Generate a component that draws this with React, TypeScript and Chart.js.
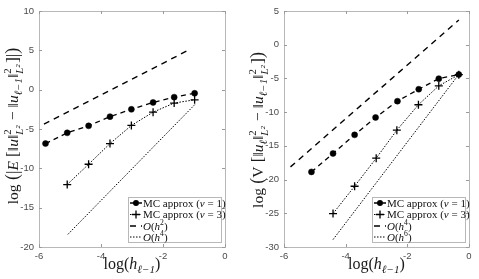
import React, { useEffect, useRef } from "react";
import { Chart, registerables } from "chart.js";

Chart.register(...registerables);

// ---------- data ----------
const leftX1 = [-5.79, -5.09, -4.4, -3.71, -3.02, -2.32, -1.64, -0.98];
const leftY1 = [-6.85, -5.49, -4.6, -3.43, -2.5, -1.62, -0.95, -0.46];
const leftX3 = [-5.09, -4.4, -3.71, -3.02, -2.32, -1.64, -0.98];
const leftY3 = [-12.06, -9.48, -6.85, -4.55, -2.86, -1.7, -1.29];
const leftRefAX = [-5.84, -1.13];
const leftRefAY = [-4.39, 5.12];
const leftRefBX = [-5.07, -0.97];
const leftRefBY = [-18.4, -1.88];

const rightX1 = [-5.11, -4.41, -3.71, -3.03, -2.32, -1.63, -0.98, -0.33];
const rightY1 = [-18.86, -16.13, -13.37, -10.79, -8.37, -6.6, -5.03, -4.42];
const rightX3 = [-4.41, -3.71, -3.01, -2.34, -1.64, -0.98, -0.33];
const rightY3 = [-25.04, -20.99, -16.83, -12.67, -8.9, -6.1, -4.45];
const rightRefAX = [-5.79, -0.33];
const rightRefAY = [-18.12, 3.66];
const rightRefBX = [-4.41, -0.33];
const rightRefBY = [-28.9, -4.4];

const xTicks = [-6, -4, -2, 0];
const leftYTicks = [-20, -15, -10, -5, 0, 5, 10];
const rightYTicks = [-30, -25, -20, -15, -10, -5, 0, 5];

const legendNames = ["MC approx", "MC approx"];
const legendNu = ["1", "3"];
const leftOrders = ["2", "4"];
const rightOrders = ["4", "6"];

// ---------- rich text ----------
type Seg = { t?: string; it?: boolean; sz?: number; dy?: number; sup?: string; sub?: string };
const SERIF = '"Liberation Serif", "Times New Roman", serif';

function segFont(it: boolean | undefined, size: number) {
  return `${it ? "italic " : ""}${size}px ${SERIF}`;
}
function segWidth(ctx: CanvasRenderingContext2D, s: Seg, base: number) {
  if (s.sup !== undefined || s.sub !== undefined) {
    ctx.font = segFont(false, base * 0.7);
    const a = s.sup ? ctx.measureText(s.sup).width : 0;
    const b = s.sub ? ctx.measureText(s.sub).width : 0;
    return Math.max(a, b) + 1;
  }
  ctx.font = segFont(s.it, base * (s.sz || 1));
  return ctx.measureText(s.t || "").width;
}
function drawRich(ctx: CanvasRenderingContext2D, segs: Seg[], x: number, y: number, base: number, align: "left" | "center") {
  let total = 0;
  for (const s of segs) total += segWidth(ctx, s, base);
  let cx = align === "center" ? x - total / 2 : x;
  ctx.textAlign = "left";
  ctx.textBaseline = "alphabetic";
  for (const s of segs) {
    const w = segWidth(ctx, s, base);
    if (s.sup !== undefined || s.sub !== undefined) {
      ctx.font = segFont(false, base * 0.7);
      if (s.sup) ctx.fillText(s.sup, cx, y - base * 0.42);
      if (s.sub) {
        ctx.font = segFont(true, base * 0.7);
        ctx.fillText(s.sub, cx, y + base * 0.3);
      }
    } else {
      ctx.font = segFont(s.it, base * (s.sz || 1));
      ctx.fillText(s.t || "", cx, y + (s.dy || 0) * base);
    }
    cx += w;
  }
}

const xTitle: Seg[] = [{ t: "log(" }, { t: "h", it: true }, { t: "ℓ−1", it: true, sz: 0.7, dy: 0.25 }, { t: ")" }];

const leftYTitle: Seg[] = [
  { t: "log" }, { t: " (", sz: 1.15 }, { t: "|", sz: 1.1 }, { t: "E", it: true }, { t: " [", sz: 1.1 },
  { t: "‖" }, { t: "u", it: true }, { t: "‖" }, { sup: "2", sub: "L²" },
  { t: " − " }, { t: "‖" }, { t: "u", it: true }, { t: "ℓ−1", it: true, sz: 0.7, dy: 0.25 }, { t: "‖" },
  { sup: "2", sub: "L²" }, { t: "]", sz: 1.1 }, { t: "|", sz: 1.1 }, { t: ")", sz: 1.15 },
];
const rightYTitle: Seg[] = [
  { t: "log" }, { t: " (", sz: 1.15 }, { t: "V" }, { t: " [", sz: 1.1 },
  { t: "‖" }, { t: "u", it: true }, { t: "ℓ", it: true, sz: 0.7, dy: 0.25 }, { t: "‖" }, { sup: "2", sub: "L²" },
  { t: " − " }, { t: "‖" }, { t: "u", it: true }, { t: "ℓ−1", it: true, sz: 0.7, dy: 0.25 }, { t: "‖" },
  { sup: "2", sub: "L²" }, { t: "]", sz: 1.1 }, { t: ")", sz: 1.15 },
];

function pts(xs: number[], ys: number[]) {
  return xs.map((x, i) => ({ x, y: ys[i] }));
}

type Cfg = {
  width: number;
  padRight: number;
  yAxisW: number;
  yMin: number;
  yMax: number;
  yTicks: number[];
  s1: { x: number; y: number }[];
  s3: { x: number; y: number }[];
  rA: { x: number; y: number }[];
  rB: { x: number; y: number }[];
  orders: string[];
  yTitle: Seg[];
  yTitleX: number;
  yTitleY: number;
};

function makeChart(canvas: HTMLCanvasElement, c: Cfg) {
  const BOX = "#b8b8b8";
  const framePlugin = {
    id: "frame",
    afterDraw(chart: any) {
      const ctx: CanvasRenderingContext2D = chart.ctx;
      const a = chart.chartArea;
      const xs = chart.scales.x;
      const ys = chart.scales.y;
      ctx.save();
      ctx.strokeStyle = BOX;
      ctx.lineWidth = 1;
      ctx.setLineDash([]);
      ctx.strokeRect(Math.round(a.left) + 0.5, Math.round(a.top) + 0.5, Math.round(a.right - a.left), Math.round(a.bottom - a.top));
      ctx.strokeStyle = "#9a9a9a";
      ctx.beginPath();
      const tl = 3;
      for (const v of xTicks) {
        const px = Math.round(xs.getPixelForValue(v)) + 0.5;
        ctx.moveTo(px, a.bottom); ctx.lineTo(px, a.bottom - tl);
        ctx.moveTo(px, a.top); ctx.lineTo(px, a.top + tl);
      }
      for (const v of c.yTicks) {
        const py = Math.round(ys.getPixelForValue(v)) + 0.5;
        ctx.moveTo(a.left, py); ctx.lineTo(a.left + tl, py);
        ctx.moveTo(a.right, py); ctx.lineTo(a.right - tl, py);
      }
      ctx.stroke();

      // titles
      ctx.fillStyle = "#1a1a1a";
      drawRich(ctx, xTitle, (a.left + a.right) / 2, 269, 16, "center");
      ctx.save();
      ctx.translate(c.yTitleX, c.yTitleY);
      ctx.rotate(-Math.PI / 2);
      drawRich(ctx, c.yTitle, 0, 5, 15.5, "center");
      ctx.restore();

      // legend
      const lx = a.right - 97;
      const ly = 197;
      const lw = 93;
      const lh = 45;
      ctx.fillStyle = "#ffffff";
      ctx.fillRect(lx, ly, lw, lh);
      ctx.strokeStyle = BOX;
      ctx.strokeRect(Math.round(lx) + 0.5, ly + 0.5, lw, lh);
      const rows = [ly + 6, ly + 17.5, ly + 29, ly + 40];
      const ds = chart.data.datasets;
      ctx.fillStyle = "#111";
      for (let i = 0; i < 4; i++) {
        const y = rows[i];
        const d = ds[i];
        ctx.strokeStyle = "#000";
        ctx.lineWidth = d.borderWidth;
        ctx.setLineDash(d.borderDash || []);
        ctx.beginPath();
        ctx.moveTo(lx + 2, y);
        ctx.lineTo(lx + 14, y);
        ctx.stroke();
        ctx.setLineDash([]);
        if (i === 0) {
          ctx.beginPath();
          ctx.arc(lx + 8, y, 3, 0, Math.PI * 2);
          ctx.fillStyle = "#000";
          ctx.fill();
        } else if (i === 1) {
          ctx.lineWidth = 1.3;
          ctx.beginPath();
          ctx.moveTo(lx + 4, y); ctx.lineTo(lx + 12, y);
          ctx.moveTo(lx + 8, y - 4); ctx.lineTo(lx + 8, y + 4);
          ctx.stroke();
        }
        ctx.fillStyle = "#111";
        const ty = y + 3.8;
        if (i < 2) {
          drawRich(ctx, [{ t: legendNames[i] + " (" }, { t: "ν", it: true }, { t: " = " + legendNu[i] + ")" }], lx + 15, ty, 11, "left");
        } else {
          drawRich(ctx, [{ t: "O", it: true }, { t: "(" }, { t: "h", it: true }, { t: c.orders[i - 2], sz: 0.7, dy: -0.4 }, { t: ")" }], lx + 15, ty, 11, "left");
        }
      }
      ctx.restore();
    },
  };

  return new Chart(canvas, {
    type: "line",
    data: {
      datasets: [
        { data: c.s1, borderColor: "#000", backgroundColor: "#000", borderWidth: 1.3, borderDash: [5, 4], pointStyle: "circle", pointRadius: 3, pointBorderWidth: 0.5, pointBackgroundColor: "#000", tension: 0 },
        { data: c.s3, borderColor: "#000", backgroundColor: "#000", borderWidth: 1, borderDash: [1.5, 1.5], pointStyle: "cross", pointRadius: 4, pointBorderWidth: 1.3, tension: 0 },
        { data: c.rA, borderColor: "#000", borderWidth: 1.4, borderDash: [6, 5], pointRadius: 0, tension: 0 },
        { data: c.rB, borderColor: "#000", borderWidth: 1, borderDash: [1.5, 1.5], pointRadius: 0, tension: 0 },
      ] as any,
    },
    plugins: [framePlugin],
    options: {
      animation: false,
      responsive: false,
      devicePixelRatio: 1,
      layout: { padding: { left: 0, right: c.padRight, top: 11, bottom: 0 } },
      plugins: { legend: { display: false }, tooltip: { enabled: false } },
      scales: {
        x: {
          type: "linear",
          min: -6,
          max: 0,
          afterBuildTicks: (s: any) => { s.ticks = xTicks.map((v) => ({ value: v })); },
          afterFit: (s: any) => { s.height = 32; },
          grid: { display: false, drawTicks: false, tickLength: 0 },
          border: { display: false },
          ticks: { color: "#4a4a4a", font: { family: '"Liberation Sans", Arial, sans-serif', size: 9.5 }, padding: 4, maxRotation: 0 },
        },
        y: {
          type: "linear",
          min: c.yMin,
          max: c.yMax,
          afterBuildTicks: (s: any) => { s.ticks = c.yTicks.map((v) => ({ value: v })); },
          afterFit: (s: any) => { s.width = c.yAxisW; },
          grid: { display: false, drawTicks: false, tickLength: 0 },
          border: { display: false },
          ticks: { color: "#4a4a4a", font: { family: '"Liberation Sans", Arial, sans-serif', size: 9.5 }, padding: 5 },
        },
      },
    } as any,
  });
}

export default function App() {
  const leftRef = useRef<HTMLCanvasElement>(null);
  const rightRef = useRef<HTMLCanvasElement>(null);

  useEffect(() => {
    document.body.style.margin = "0";
    const l = makeChart(leftRef.current!, {
      width: 240, padRight: 15, yAxisW: 39, yMin: -20, yMax: 10, yTicks: leftYTicks,
      s1: pts(leftX1, leftY1), s3: pts(leftX3, leftY3), rA: pts(leftRefAX, leftRefAY), rB: pts(leftRefBX, leftRefBY),
      orders: leftOrders, yTitle: leftYTitle, yTitleX: 13, yTitleY: 126,
    });
    const r = makeChart(rightRef.current!, {
      width: 239, padRight: 10, yAxisW: 44, yMin: -30, yMax: 5, yTicks: rightYTicks,
      s1: pts(rightX1, rightY1), s3: pts(rightX3, rightY3), rA: pts(rightRefAX, rightRefAY), rB: pts(rightRefBX, rightRefBY),
      orders: rightOrders, yTitle: rightYTitle, yTitleX: 18, yTitleY: 130,
    });
    return () => { l.destroy(); r.destroy(); };
  }, []);

  return (
    <div style={{ position: "relative", width: 479, height: 279, background: "#fff" }}>
      <canvas ref={leftRef} width={240} height={279} style={{ position: "absolute", left: 0, top: 0, width: 240, height: 279 }} />
      <canvas ref={rightRef} width={239} height={279} style={{ position: "absolute", left: 240, top: 0, width: 239, height: 279 }} />
    </div>
  );
}
